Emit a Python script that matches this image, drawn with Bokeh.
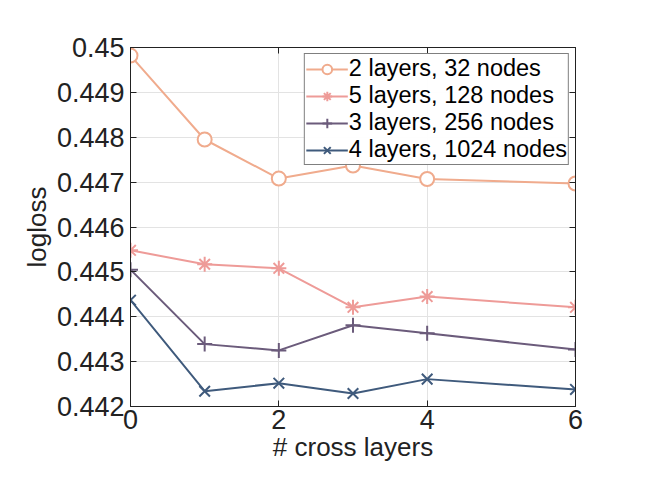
from bokeh.plotting import figure
from bokeh.models import Range1d, LinearAxis, FixedTicker, Legend, LegendItem
from bokeh.embed import file_html
from bokeh.resources import INLINE

cross_layers = [0, 1, 2, 3, 4, 6]
s_2x32 = [0.44982, 0.44795, 0.44708, 0.44737, 0.44707, 0.44697]
s_5x128 = [0.44548, 0.44517, 0.44508, 0.44421, 0.44445, 0.44421]
s_3x256 = [0.44505, 0.44339, 0.44325, 0.44381, 0.44363, 0.44327]
s_4x1024 = [0.44437, 0.44234, 0.44252, 0.44229, 0.44261, 0.44238]
labels = ["2 layers, 32 nodes", "5 layers, 128 nodes", "3 layers, 256 nodes", "4 layers, 1024 nodes"]
x_ticks = [0, 2, 4, 6]
y_ticks = [0.442, 0.443, 0.444, 0.445, 0.446, 0.447, 0.448, 0.449, 0.45]

FONT = "Liberation Sans"
colors = ["#F0AB8D", "#EE9B98", "#6B5B7B", "#3F5A7C"]
markers = ["circle", "asterisk", "cross", "x"]

p = figure(width=658, height=494, output_backend="svg", toolbar_location=None,
           x_range=Range1d(0, 6), y_range=Range1d(0.442, 0.45),
           min_border_left=130, min_border_right=83, min_border_top=47, min_border_bottom=88)
p.background_fill_color = "white"
p.border_fill_color = "white"
p.outline_line_color = "#222222"
p.outline_line_width = 1

for ax in [p.xaxis[0], p.yaxis[0]]:
    ax.major_tick_in = 6
    ax.major_tick_out = 0
    ax.minor_tick_in = 0
    ax.minor_tick_out = 0
    ax.axis_line_color = "#222222"
    ax.major_tick_line_color = "#222222"
    ax.major_label_text_font = FONT
    ax.major_label_text_font_size = "27px"
    ax.major_label_text_color = "#222222"
    ax.axis_label_text_font = FONT
    ax.axis_label_text_font_size = "26px"
    ax.axis_label_text_font_style = "normal"
    ax.axis_label_text_color = "#222222"

p.xaxis[0].ticker = FixedTicker(ticks=x_ticks)
p.yaxis[0].ticker = FixedTicker(ticks=y_ticks)
p.yaxis[0].formatter.use_scientific = False
p.xaxis[0].axis_label = "# cross layers"
p.yaxis[0].axis_label = "logloss"
p.xaxis[0].major_label_standoff = 3
p.yaxis[0].major_label_standoff = 6
p.xaxis[0].axis_label_standoff = 0
p.yaxis[0].axis_label_standoff = 2

blank_y = {t: "" for t in y_ticks}
blank_x = {t: "" for t in x_ticks}
ra = LinearAxis(ticker=FixedTicker(ticks=y_ticks), major_label_overrides=blank_y,
                major_tick_in=6, major_tick_out=0, minor_tick_in=0, minor_tick_out=0,
                axis_line_color="#222222", major_tick_line_color="#222222")
ta = LinearAxis(ticker=FixedTicker(ticks=x_ticks), major_label_overrides=blank_x,
                major_tick_in=6, major_tick_out=0, minor_tick_in=0, minor_tick_out=0,
                axis_line_color="#222222", major_tick_line_color="#222222")
p.add_layout(ra, "right")
p.add_layout(ta, "above")

p.xgrid.ticker = FixedTicker(ticks=x_ticks)
p.ygrid.ticker = FixedTicker(ticks=y_ticks)
p.xgrid.grid_line_color = "#E3E3E3"
p.ygrid.grid_line_color = "#E3E3E3"

items = []
for series, c, m, lab in zip([s_2x32, s_5x128, s_3x256, s_4x1024], colors, markers, labels):
    ln = p.line(cross_layers, series, line_color=c, line_width=2)
    sc = p.scatter(cross_layers, series, marker=m, size=15 if m != "circle" else 14,
                   line_color=c, fill_color="white" if m == "circle" else None, line_width=2)
    items.append(LegendItem(label=lab, renderers=[ln, sc]))

leg = Legend(items=items, location="top_right")
leg.label_text_font = FONT
leg.label_text_font_size = "23.5px"
leg.label_text_color = "black"
leg.border_line_color = "black"
leg.border_line_width = 1
leg.glyph_width = 42
leg.glyph_height = 24
leg.label_height = 24
leg.spacing = 0
leg.padding = 1
leg.margin = 6
leg.label_standoff = 1
p.add_layout(leg)

open("out.html", "w").write(file_html(p, INLINE))
